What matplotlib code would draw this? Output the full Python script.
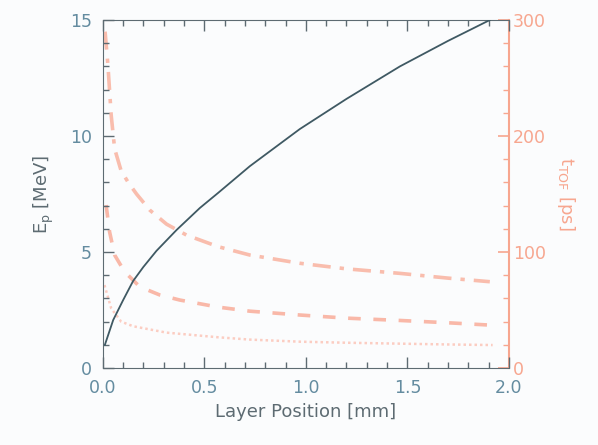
import matplotlib.pyplot as plt
from matplotlib.ticker import MultipleLocator

# layer position [mm] and proton energy [MeV]
x_e = [0.01, 0.051, 0.1, 0.149, 0.199, 0.264, 0.363, 0.478, 0.568, 0.724, 0.97, 1.2, 1.463, 1.7, 1.906]
e_p = [1.0, 2.07, 2.93, 3.75, 4.35, 5.05, 5.95, 6.9, 7.55, 8.7, 10.3, 11.6, 13.0, 14.1, 15.0]

# time of flight curves [ps]
x_t1 = [0.011, 0.025, 0.041, 0.058, 0.09, 0.125, 0.166, 0.232, 0.314, 0.412, 0.568,
        0.724, 0.97, 1.2, 1.463, 1.7, 1.906]
t_top = [290, 261, 218, 189, 170, 160, 150, 136, 124, 114.6, 104.6,
         97.4, 90.3, 85.5, 81.6, 77.5, 74.4]

x_t2 = [0.016, 0.033, 0.058, 0.107, 0.182, 0.28, 0.379, 0.568, 0.724, 0.97, 1.2, 1.463, 1.7, 1.906]
t_mid = [140.5, 117.5, 97.4, 83, 70, 63, 58.6, 52.5, 49, 45.7, 43, 41.0, 39.0, 37.0]

x_t3 = [0.008, 0.041, 0.09, 0.149, 0.314, 0.568, 0.724, 0.97, 1.2, 1.463, 1.7, 1.92]
t_low = [71.5, 51.5, 40, 36, 30.5, 26.5, 24.5, 22.7, 21.8, 21.0, 20.3, 19.8]

grey = '#5d6b72'
txt = '#648ca0'
red = '#f7a68f'

fig = plt.figure(figsize=(5.98, 4.45), dpi=100)
fig.patch.set_facecolor('#fbfcfd')
ax = fig.add_axes([0.172, 0.173, 0.679, 0.782])
ax2 = ax.twinx()

ax2.plot(x_t1, t_top, color='#f9bdad', lw=2.6, dashes=(5, 2.5, 1.2, 2.5))
ax2.plot(x_t2, t_mid, color='#f9b8a8', lw=2.6, dashes=(3.5, 3.5))
ax2.plot(x_t3, t_low, color='#fbcdc2', lw=1.8, dashes=(1, 1.2))
ax.plot(x_e, e_p, color='#3f5963', lw=1.3, zorder=5)
ax.set_zorder(ax2.get_zorder() + 1)
ax.patch.set_visible(False)

ax.set_xlim(0, 2)
ax.set_ylim(0, 15)
ax2.set_ylim(0, 300)

ax.xaxis.set_major_locator(MultipleLocator(0.5))
ax.xaxis.set_minor_locator(MultipleLocator(0.1))
ax.yaxis.set_major_locator(MultipleLocator(5))
ax.yaxis.set_minor_locator(MultipleLocator(1))
ax2.yaxis.set_major_locator(MultipleLocator(100))
ax2.yaxis.set_minor_locator(MultipleLocator(20))
ax.xaxis.set_major_formatter(plt.FormatStrFormatter('%.1f'))

ax.tick_params(which='both', direction='in', top=True, right=False, colors=grey,
               labelcolor=txt, labelsize=12.5, pad=8)
ax.tick_params(which='major', length=8, width=1)
ax.tick_params(which='minor', length=4, width=1)
ax2.tick_params(which='both', direction='in', colors=red, labelcolor=red, labelsize=12.5, pad=3)
ax2.tick_params(which='major', length=8, width=1.2)
ax2.tick_params(which='minor', length=4, width=1)

for s in ['left', 'top', 'bottom']:
    ax.spines[s].set_color(grey)
ax.spines['right'].set_visible(False)
ax2.spines['right'].set_color(red)
ax2.spines['right'].set_linewidth(1.5)
for s in ['left', 'top', 'bottom']:
    ax2.spines[s].set_visible(False)

ax.set_xlabel('Layer Position [mm]', color=grey, fontsize=13)
ax.set_ylabel('E$_\\mathregular{p}$ [MeV]', color=grey, fontsize=13, labelpad=10)
ax2.set_ylabel('t$_\\mathregular{TOF}$ [ps]', color=red, fontsize=13, rotation=-90, labelpad=22)

fig.savefig('out.png', dpi=100, facecolor=fig.get_facecolor())
